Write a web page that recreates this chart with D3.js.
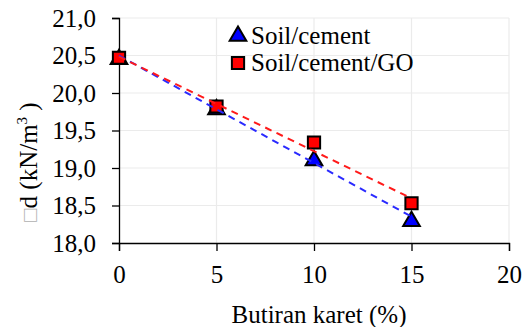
<!DOCTYPE html>
<html><head><meta charset="utf-8">
<script src="https://cdn.jsdelivr.net/npm/d3@7"></script>
</head>
<body style="margin:0;background:#fff">
<svg id="c" width="532" height="327" style="display:block;font-family:'Times New Roman','Liberation Serif',Tinos,serif"></svg>
<script>
const rubber = [0, 5, 10, 15];
const soilCement = [20.47, 19.80, 19.12, 18.31];
const soilCementGO = [20.47, 19.82, 19.34, 18.53];
const seriesNames = ["Soil/cement", "Soil/cement/GO"];
const xTicks = [0, 5, 10, 15, 20];
const yTicks = [18.0, 18.5, 19.0, 19.5, 20.0, 20.5, 21.0];
const xTitle = "Butiran karet (%)";

const FONT = "'Times New Roman','Liberation Serif',Tinos,serif";
const svg = d3.select("#c");
const x = d3.scaleLinear().domain([0, 20]).range([119, 509]);
const y = d3.scaleLinear().domain([18, 21]).range([243, 18]);
const fs = "25px";

// gridlines
svg.append("g").selectAll("line").data(yTicks.slice(1)).join("line")
  .attr("x1", x(0)).attr("x2", x(20)).attr("y1", d => y(d)).attr("y2", d => y(d))
  .attr("stroke", "#ebebeb").attr("stroke-width", 1.2);
svg.append("g").selectAll("line").data(xTicks.slice(1)).join("line")
  .attr("y1", y(18)).attr("y2", y(21)).attr("x1", d => x(d)).attr("x2", d => x(d))
  .attr("stroke", "#ebebeb").attr("stroke-width", 1.2);

// axes
const fmt = d => d3.format(".1f")(d).replace(".", ",");
const gy = svg.append("g").attr("transform", `translate(${x(0)},0)`)
  .call(d3.axisLeft(y).tickValues(yTicks).tickFormat(fmt).tickSize(7).tickPadding(16));
const gx = svg.append("g").attr("transform", `translate(0,${y(18)})`)
  .call(d3.axisBottom(x).tickValues(xTicks).tickFormat(d3.format("d")).tickSize(8));
[gx, gy].forEach(g => {
  g.attr("font-family", null).attr("font-size", null);
  g.select(".domain").attr("stroke", "#000").attr("stroke-width", 1.3);
  g.selectAll(".tick line").attr("stroke", "#000").attr("stroke-width", 1.3);
  g.selectAll("text").style("font-family", FONT).style("font-size", fs).attr("fill", "#000");
});
gx.selectAll(".tick text").attr("dy", null).attr("y", 40);
gy.selectAll(".tick text").attr("dy", "0.33em");

// titles
svg.append("text").attr("x", 319).attr("y", 323).attr("text-anchor", "middle")
  .style("font-family", FONT).style("font-size", fs).text(xTitle);
const yt = svg.append("text").attr("transform", "translate(36.5,162) rotate(-90)")
  .attr("text-anchor", "middle").style("font-family", FONT).style("font-size", fs);
yt.append("tspan").attr("fill", "#b0b0b0").style("font-size", "22px").text("\u25A1");
yt.append("tspan").text("d (kN/m");
yt.append("tspan").style("font-size", "15px").attr("dy", -10).text("3");
yt.append("tspan").attr("dy", 10).text(" )");

// markers
const tri = d3.symbol().type(d3.symbolTriangle).size(120);
const sq = d3.symbol().type(d3.symbolSquare).size(150);
svg.append("g").selectAll("path").data(rubber.map((r, i) => [r, soilCement[i]])).join("path")
  .attr("d", tri).attr("transform", d => `translate(${x(d[0])},${y(d[1]) + 1.5})`)
  .attr("fill", "#0000ff").attr("stroke", "#000").attr("stroke-width", 2);
svg.append("g").selectAll("path").data(rubber.map((r, i) => [r, soilCementGO[i]])).join("path")
  .attr("d", sq).attr("transform", d => `translate(${x(d[0])},${y(d[1])})`)
  .attr("fill", "#ff0000").attr("stroke", "#000").attr("stroke-width", 2);

// linear trendlines from the data
function fit(xs, ys) {
  const mx = d3.mean(xs), my = d3.mean(ys);
  const b = d3.sum(xs, (v, i) => (v - mx) * (ys[i] - my)) / d3.sum(xs, v => (v - mx) ** 2);
  return [b, my - b * mx];
}
[[soilCement, "#2a2aff"], [soilCementGO, "#ff1a1a"]].forEach(([ys, c]) => {
  const [b, a] = fit(rubber, ys);
  const x0 = d3.min(rubber), x1 = d3.max(rubber);
  svg.append("line").attr("x1", x(x0)).attr("y1", y(a + b * x0))
    .attr("x2", x(x1)).attr("y2", y(a + b * x1))
    .attr("stroke", c).attr("stroke-width", 2).attr("stroke-dasharray", "7,5.5");
});

// legend
const lg = svg.append("g");
lg.append("path").attr("d", tri).attr("transform", "translate(238,36)")
  .attr("fill", "#0000ff").attr("stroke", "#000").attr("stroke-width", 2);
lg.append("text").attr("x", 251).attr("y", 43.5).style("font-family", FONT).style("font-size", fs).text(seriesNames[0]);
lg.append("path").attr("d", sq).attr("transform", "translate(238,63)")
  .attr("fill", "#ff0000").attr("stroke", "#000").attr("stroke-width", 2);
lg.append("text").attr("x", 251).attr("y", 71).style("font-family", FONT).style("font-size", fs).text(seriesNames[1]);
</script>
</body></html>
